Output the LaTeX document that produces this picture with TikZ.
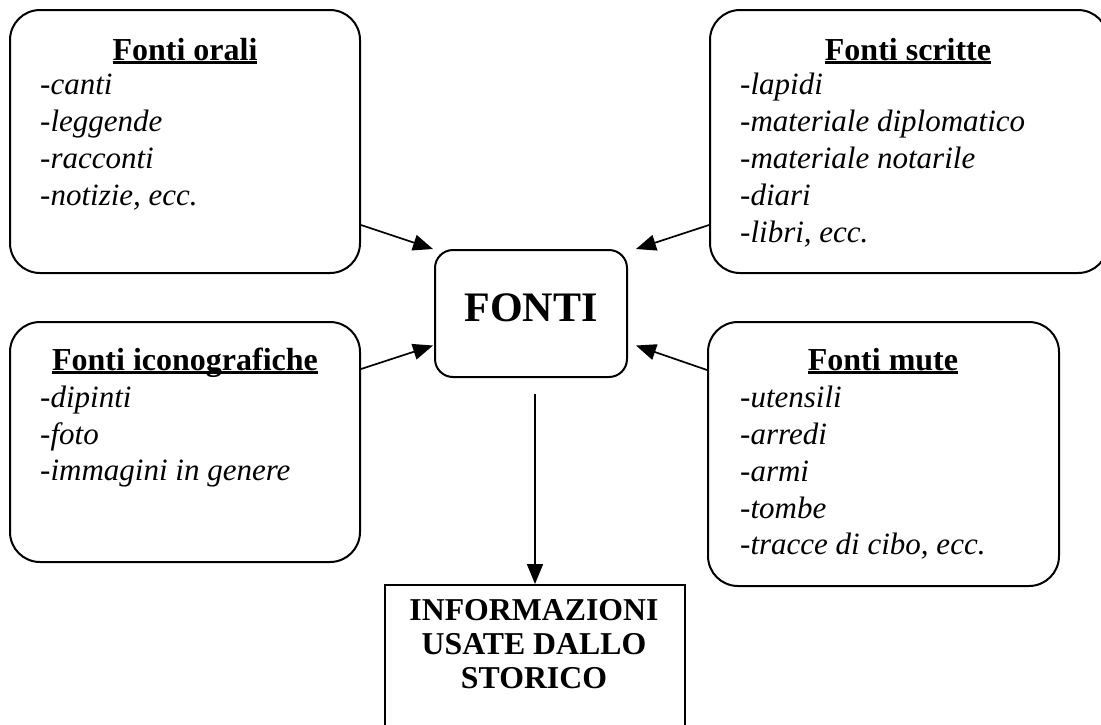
\documentclass[tikz,border=0pt]{standalone}
\usepackage{fontspec}
\setmainfont{Liberation Serif}
\usetikzlibrary{arrows.meta}
\newcommand\myul[1]{\setbox0\hbox{#1}\rlap{\rule[-4pt]{\wd0}{3pt}}\box0}
\tikzset{
  rbox/.style={draw, line width=2pt, rounded corners=30pt, inner sep=0pt},
  cbox/.style={draw, line width=2pt, rounded corners=18pt, inner sep=0pt},
  sbox/.style={draw, line width=2pt, inner sep=0pt},
  ttl/.style={anchor=base, inner sep=0pt, font=\fontsize{32}{36}\selectfont\bfseries},
  itm/.style={anchor=base west, inner sep=0pt, font=\fontsize{31}{36}\selectfont\itshape},
  big/.style={anchor=base, inner sep=0pt, font=\fontsize{31.8}{36}\selectfont\bfseries},
  arr/.style={line width=1.7pt, -{Triangle[length=20pt,width=16pt]}}
}
\begin{document}
\begin{tikzpicture}[x=1pt,y=-1pt]
\useasboundingbox (0,0) rectangle (1101,724);
% boxes
\node[rbox, minimum width=350, minimum height=263] (orali) at (185,141.5) {};
\node[rbox, minimum width=398, minimum height=263] (scritte) at (909,141.5) {};
\node[cbox, minimum width=192, minimum height=127] (fonti) at (531,313.5) {};
\node[rbox, minimum width=350, minimum height=240] (icono) at (185,442) {};
\node[rbox, minimum width=351, minimum height=264] (mute) at (883.5,454) {};
\node[sbox, minimum width=300, minimum height=175] (info) at (535,672.5) {};
% texts: Fonti orali
\node[ttl] (t1) at (185,60) {\myul{Fonti orali}};
\node[itm] (o1) at (40,94) {-canti};
\node[itm] (o2) at (40,131) {-leggende};
\node[itm] (o3) at (40,168) {-racconti};
\node[itm] (o4) at (40,205) {-notizie, ecc.};
% Fonti scritte
\node[ttl] (t2) at (908,60) {\myul{Fonti scritte}};
\node[itm] (s1) at (740,94) {-lapidi};
\node[itm] (s2) at (740,131) {-materiale diplomatico};
\node[itm] (s3) at (740,168) {-materiale notarile};
\node[itm] (s4) at (740,205) {-diari};
\node[itm] (s5) at (740,242) {-libri, ecc.};
% Fonti iconografiche
\node[ttl] (t3) at (185,370) {\myul{Fonti iconografiche}};
\node[itm] (i1) at (40,407) {-dipinti};
\node[itm] (i2) at (40,444) {-foto};
\node[itm] (i3) at (40,480) {-immagini in genere};
% Fonti mute
\node[ttl] (t4) at (883,370) {\myul{Fonti mute}};
\node[itm] (m1) at (740,407) {-utensili};
\node[itm] (m2) at (740,444) {-arredi};
\node[itm] (m3) at (740,481) {-armi};
\node[itm] (m4) at (740,518) {-tombe};
\node[itm] (m5) at (740,554) {-tracce di cibo, ecc.};
% FONTI
\node[anchor=base, inner sep=0pt, font=\fontsize{42}{48}\selectfont\bfseries] (ft) at (531,321) {FONTI};
% INFO
\node[big] (n1) at (534,620) {INFORMAZIONI};
\node[big] (n2) at (534,654) {USATE DALLO};
\node[big] (n3) at (534,688) {STORICO};
% arrows
\draw[arr] ([yshift=-83.5pt]orali.east) -- ([xshift=-1pt]fonti.north west);
\draw[arr] ([yshift=-83.5pt]scritte.west) -- ([xshift=8pt]fonti.north east);
\draw[arr] ([yshift=73pt]icono.east) -- ([xshift=-1pt,yshift=-32pt]fonti.west);
\draw[arr] ([yshift=84pt]mute.west) -- ([xshift=8pt,yshift=-32pt]fonti.east);
\coordinate (vs) at ([yshift=-16pt]fonti.south -| info.north);
\draw[arr] (vs) -- (info.north);
\end{tikzpicture}
\end{document}
